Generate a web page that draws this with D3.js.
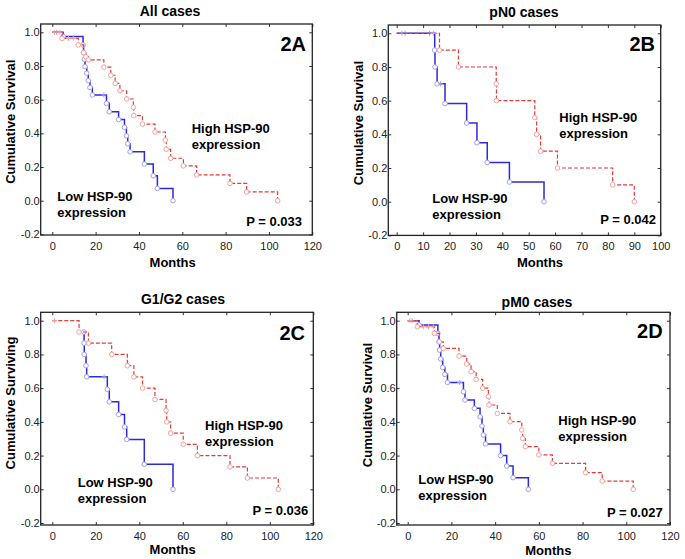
<!DOCTYPE html>
<html>
<head>
<meta charset="utf-8">
<script src="https://cdn.jsdelivr.net/npm/d3@7"></script>
<style>
  body { margin: 0; background: #fff; }
  svg { font-family: "Liberation Sans", Arial, sans-serif; }
</style>
</head>
<body>
<div class="chart_box"></div>
<script>
// Tick values
const xTicks120 = [0, 20, 40, 60, 80, 100, 120];
const xTicks100 = [0, 10, 20, 30, 40, 50, 60, 70, 80, 90, 100];
const yTicks = [-0.2, 0, 0.2, 0.4, 0.6, 0.8, 1.0];

// Panel texts
const titles = ["All cases", "pN0 cases", "G1/G2 cases", "pM0 cases"];
const tags = ["2A", "2B", "2C", "2D"];
const pValues = ["P = 0.033", "P = 0.042", "P = 0.036", "P = 0.027"];
const yLabels = ["Cumulative Survival", "Cumulative Survival", "Cumulative Surviving", "Cumulative Survival"];

// Kaplan-Meier steps: [months, survival]
const lowA = [[0, 1], [5, 0.975], [14.2, 0.925], [14.4, 0.88], [14.8, 0.84], [15.1, 0.796], [15.9, 0.757],
  [16.6, 0.713], [17.4, 0.672], [18.5, 0.628], [25, 0.578], [26.3, 0.528], [30.6, 0.482], [33.3, 0.436],
  [34.2, 0.385], [34.8, 0.338], [35.9, 0.29], [42.5, 0.218], [46.6, 0.148], [48.5, 0.073], [55.7, 0]];
const highA = [[0, 1], [4.5, 0.964], [12, 0.925], [14.5, 0.88], [15.5, 0.855], [16.6, 0.836], [23.8, 0.793],
  [27, 0.745], [29, 0.697], [31.2, 0.653], [34.3, 0.604], [37.4, 0.554], [37.6, 0.505], [41.6, 0.455],
  [47.4, 0.408], [52.2, 0.36], [52.6, 0.305], [54.6, 0.252], [60.5, 0.207], [66.6, 0.153], [82, 0.103],
  [89.7, 0.052], [104, 0]];
const lowCensA = [[2, 1], [23.8, 0.628]];
const highCensA = [[1, 1], [3.5, 1], [7.5, 0.964], [9.7, 0.964]];

const lowB = [[0, 1], [14.4, 0.9], [14.5, 0.8], [15.3, 0.7], [18.3, 0.583], [26.5, 0.467], [30.4, 0.35],
  [34.3, 0.233], [42.7, 0.117], [55.8, 0]];
const highB = [[0, 1], [16.2, 0.9], [23.4, 0.8], [37.7, 0.7], [37.8, 0.6], [52.3, 0.5], [53, 0.4],
  [54.5, 0.3], [60.9, 0.2], [81.8, 0.1], [90, 0]];
const lowCensB = [[2, 1], [3.2, 1], [12.4, 1], [16.6, 0.7]];
const highCensB = [[13.9, 1]];

const lowC = [[14.5, 0.933], [14.6, 0.867], [14.7, 0.8], [15.5, 0.733], [15.8, 0.667], [25.3, 0.593],
  [26.2, 0.519], [30.5, 0.444], [33.2, 0.37], [34.2, 0.296], [42.3, 0.148], [55.5, 0]];
const highC = [[0, 1], [12.3, 0.933], [16.6, 0.867], [27.3, 0.8], [34.5, 0.733], [37.5, 0.667], [41.5, 0.6],
  [47.2, 0.533], [52.3, 0.467], [52.6, 0.4], [54.4, 0.333], [60.2, 0.267], [66.7, 0.2], [81.7, 0.133],
  [89.7, 0.067], [103.9, 0]];
const lowCensC = [[23.8, 0.667]];
const highCensC = [[1, 1]];

const lowD = [[0, 1], [5.2, 0.975], [13.8, 0.925], [14.3, 0.875], [14.6, 0.826], [15.1, 0.773], [16, 0.723],
  [17, 0.682], [18.2, 0.634], [25.5, 0.579], [26.2, 0.53], [30.5, 0.48], [33.1, 0.43], [34, 0.375],
  [34.6, 0.322], [35.6, 0.269], [42.5, 0.2], [45.3, 0.138], [48.2, 0.069], [55.2, 0]];
const highD = [[0, 1], [4.4, 0.964], [12.2, 0.925], [14.5, 0.875], [16.3, 0.836], [23.5, 0.79], [27, 0.743],
  [29, 0.698], [31.3, 0.652], [34.3, 0.6], [36.9, 0.55], [37.2, 0.5], [41, 0.45], [46.8, 0.401],
  [52.2, 0.352], [52.6, 0.302], [53.8, 0.253], [60, 0.204], [66.2, 0.154], [81.4, 0.099], [89, 0.049],
  [103.2, 0]];
const lowCensD = [[2, 1], [23.8, 0.634]];
const highCensD = [[1, 1], [7.2, 0.964], [9.5, 0.964], [11.7, 0.964]];

const svg = d3
  .select(".chart_box")
  .append("svg")
  .attr("width", 685)
  .attr("height", 559);

// layout of each panel (pixels)
const panels = [
  { x0: 52.3, x1: 312.3, xmax: 120, L: 40.7, R: 312.3, y0: 200.7, y1: 32.3, T: 24, B: 235,
    xt: xTicks120, low: lowA, high: highA, lc: lowCensA, hc: highCensA,
    title: [170, 16], months: [172.7, 266.5], ylab: [15, 121.7],
    hi: [191.7, 133], lo: [57.3, 201], tag: [306, 51], p: [302, 226] },
  { x0: 396.7, x1: 660.7, xmax: 100, L: 388.3, R: 660.7, y0: 201.7, y1: 33.3, T: 25, B: 235.4,
    xt: xTicks100, low: lowB, high: highB, lc: lowCensB, hc: highCensB,
    title: [524, 17], months: [540, 267], ylab: [363, 123],
    hi: [559.3, 122], lo: [432.3, 203], tag: [655, 51], p: [656, 224] },
  { x0: 52.3, x1: 313.3, xmax: 120, L: 40.7, R: 313.3, y0: 489.3, y1: 320.7, T: 312.3, B: 525,
    xt: xTicks120, low: lowC, high: highC, lc: lowCensC, hc: highCensC,
    title: [183, 304], months: [172.7, 554], ylab: [15, 403],
    hi: [205, 429.5], lo: [77.7, 487], tag: [305, 339.5], p: [308.3, 514.5] },
  { x0: 407.7, x1: 670, xmax: 120, L: 396.7, R: 670, y0: 489.3, y1: 320.7, T: 312.3, B: 525,
    xt: xTicks120, low: lowD, high: highD, lc: lowCensD, hc: highCensD,
    title: [537, 307], months: [548.3, 555], ylab: [371.7, 405],
    hi: [558.3, 424.5], lo: [418.3, 484], tag: [662.7, 338], p: [662.7, 517] },
];

const blue = "#2b2bd6", blueLight = "#a0a0f0";
const red = "#e33b36", redLight = "#f3a3a0";

panels.forEach((p, i) => {
  const g = svg.append("g");
  const x = d3.scaleLinear().domain([0, p.xmax]).range([p.x0, p.x1]);
  const y = d3.scaleLinear().domain([0, 1]).range([p.y0, p.y1]);

  // inward ticks on all sides
  g.append("g")
    .attr("transform", `translate(0,${p.B})`)
    .call(d3.axisBottom(x).tickValues(p.xt).tickSize(-3).tickPadding(7).tickFormat(d3.format("d")))
    .call((a) => a.select(".domain").remove());
  g.append("g")
    .attr("transform", `translate(0,${p.T})`)
    .call(d3.axisTop(x).tickValues(p.xt).tickSize(-3).tickFormat(""))
    .call((a) => a.select(".domain").remove());
  g.append("g")
    .attr("transform", `translate(${p.L},0)`)
    .call(d3.axisLeft(y).tickValues(yTicks).tickSize(-3).tickPadding(1).tickFormat((d) => d.toFixed(1).replace("−", "-")))
    .call((a) => a.select(".domain").remove());
  g.append("g")
    .attr("transform", `translate(${p.R},0)`)
    .call(d3.axisRight(y).tickValues(yTicks).tickSize(-3).tickFormat(""))
    .call((a) => a.select(".domain").remove());
  g.selectAll(".tick text").attr("font-size", 11).attr("fill", "#222")
    .attr("font-family", "'Liberation Sans', Arial, sans-serif");
  g.selectAll(".tick line").attr("stroke", "#333");

  // frame
  g.append("rect")
    .attr("x", p.L).attr("y", p.T)
    .attr("width", p.R - p.L).attr("height", p.B - p.T)
    .attr("fill", "none").attr("stroke", "#222").attr("stroke-width", 1.3);

  const line = d3.line().x((d) => x(d[0])).y((d) => y(d[1])).curve(d3.curveStepAfter);

  const drawCurve = (data, cens, col, light, dash) => {
    g.append("path")
      .datum(data)
      .attr("d", line)
      .attr("fill", "none")
      .attr("stroke", col)
      .attr("stroke-width", dash ? 1.2 : 1.5)
      .attr("stroke-dasharray", dash ? "4,2" : null);
    g.selectAll(null)
      .data(data.filter((d, k) => !(k === 0 && d[1] === 1)))
      .enter()
      .append("circle")
      .attr("cx", (d) => x(d[0]))
      .attr("cy", (d) => y(d[1]))
      .attr("r", 2.3)
      .attr("fill", "#fff")
      .attr("stroke", light)
      .attr("stroke-width", 1);
    g.selectAll(null)
      .data(cens)
      .enter()
      .append("path")
      .attr("d", (d) => `M${x(d[0]) - 2.5},${y(d[1])}h5M${x(d[0])},${y(d[1]) - 2.5}v5`)
      .attr("stroke", light)
      .attr("stroke-width", 1);
  };
  drawCurve(p.low, p.lc, blue, blueLight, false);
  drawCurve(p.high, p.hc, red, redLight, true);

  // texts
  g.append("text").attr("x", p.title[0]).attr("y", p.title[1])
    .attr("text-anchor", "middle").attr("font-size", 14).attr("font-weight", "bold").text(titles[i]);
  g.append("text").attr("x", p.months[0]).attr("y", p.months[1])
    .attr("text-anchor", "middle").attr("font-size", 13).attr("font-weight", "bold").text("Months");
  g.append("text")
    .attr("transform", `translate(${p.ylab[0]},${p.ylab[1]}) rotate(-90)`)
    .attr("text-anchor", "middle").attr("font-size", 13).attr("font-weight", "bold").text(yLabels[i]);

  const two = (pos, a, b) => {
    g.append("text").attr("x", pos[0]).attr("y", pos[1])
      .attr("font-size", 13).attr("font-weight", "bold").text(a);
    g.append("text").attr("x", pos[0]).attr("y", pos[1] + 16)
      .attr("font-size", 13).attr("font-weight", "bold").text(b);
  };
  two(p.hi, "High HSP-90", "expression");
  two(p.lo, "Low HSP-90", "expression");

  g.append("text").attr("x", p.tag[0]).attr("y", p.tag[1])
    .attr("text-anchor", "end").attr("font-size", 20).attr("font-weight", "bold").text(tags[i]);
  g.append("text").attr("x", p.p[0]).attr("y", p.p[1])
    .attr("text-anchor", "end").attr("font-size", 13).attr("font-weight", "bold").text(pValues[i]);
});
</script>
</body>
</html>
